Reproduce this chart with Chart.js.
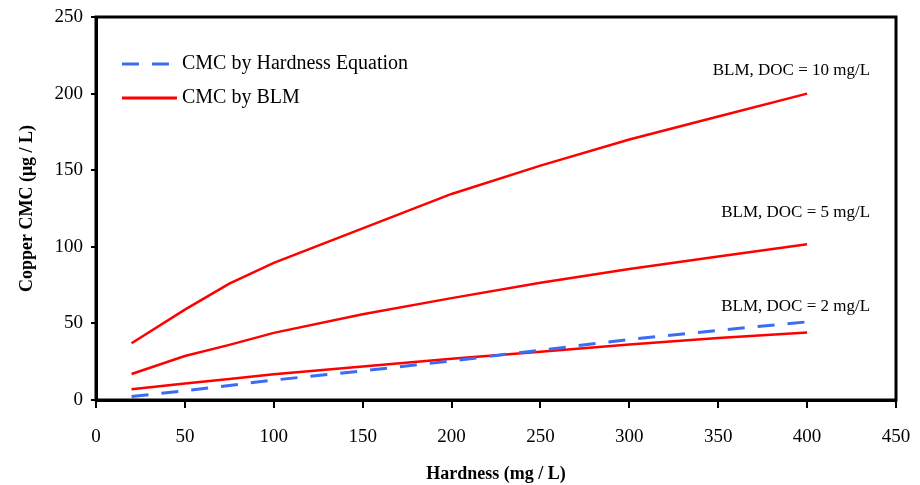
<!DOCTYPE html>
<html>
<head>
<meta charset="utf-8">
<script src="https://cdn.jsdelivr.net/npm/chart.js@4.4.1/dist/chart.umd.min.js"></script>
<style>
  html, body { margin: 0; padding: 0; background: #fff; }
  #wrap { width: 920px; height: 485px; }
</style>
</head>
<body>
<div id="wrap"><canvas id="cmcChart" width="920" height="485"></canvas></div>
<script>
// values
var hardness   = [20, 50, 75, 100, 150, 200, 250, 300, 350, 400];
var hardnessEq = [2.3, 6, 9.5, 13, 19, 25.5, 32.5, 39.5, 45.5, 51];
var blmDoc2    = [7, 10.8, 13.7, 16.8, 21.8, 27, 31.5, 36.3, 40.5, 44];
var blmDoc5    = [17, 28.7, 36, 43.8, 56, 66.5, 76.5, 85.5, 93.6, 101.6];
var blmDoc10   = [37, 59, 76, 89.5, 112, 134.5, 153, 170, 185, 200];
var xTicks = [0, 50, 100, 150, 200, 250, 300, 350, 400, 450];
var yTicks = [0, 50, 100, 150, 200, 250];

var serif = "'Liberation Serif', 'Times New Roman', serif";
var blue = '#3a6cf5';
var red = '#ff0000';

function pts(ys) {
    var out = [];
    for (var i = 0; i < hardness.length; i++) {
        out.push({x: hardness[i], y: ys[i]});
    }
    return out;
}

// curve labels, placed with the chart scales
var curveLabels = [
    {text: 'BLM, DOC = 10 mg/L', x: 400, y: 200, dy: -23},
    {text: 'BLM, DOC = 5 mg/L', x: 400, y: 101.6, dy: -32},
    {text: 'BLM, DOC = 2 mg/L', x: 400, y: 44, dy: -26}
];

var framePlugin = {
    id: 'frame',
    afterDraw: function(chart) {
        var ctx = chart.ctx, a = chart.chartArea;
        var xs = chart.scales.x, ys = chart.scales.y;
        ctx.save();
        // frame
        ctx.strokeStyle = '#000';
        ctx.lineWidth = 3;
        ctx.strokeRect(a.left, a.top, a.right - a.left, a.bottom - a.top);

        // legend (inside the plot)
        var items = [chart.data.datasets[0], chart.data.datasets[1]];
        ctx.font = '20px ' + serif;
        ctx.textBaseline = 'middle';
        ctx.textAlign = 'left';
        for (var i = 0; i < items.length; i++) {
            var ly = 64 + i * 34;
            ctx.beginPath();
            ctx.strokeStyle = items[i].borderColor;
            ctx.lineWidth = 3;
            ctx.setLineDash(items[i].borderDash || []);
            ctx.moveTo(122, ly);
            ctx.lineTo(177, ly);
            ctx.stroke();
            ctx.setLineDash([]);
            ctx.fillStyle = '#000';
            ctx.fillText(items[i].label, 182, ly);
        }

        // curve labels
        ctx.font = '17px ' + serif;
        ctx.textAlign = 'right';
        ctx.fillStyle = '#000';
        curveLabels.forEach(function(c) {
            ctx.fillText(c.text, xs.getPixelForValue(c.x) + 63, ys.getPixelForValue(c.y) + c.dy);
        });
        ctx.restore();
    }
};

var ctx = document.getElementById('cmcChart').getContext('2d');
var myChart = new Chart(ctx, {
    type: 'line',
    data: {
        datasets: [{
            label: 'CMC by Hardness Equation',
            data: pts(hardnessEq),
            borderColor: blue,
            borderWidth: 3,
            borderDash: [17, 13],
            pointRadius: 0,
            fill: false,
            tension: 0
        }, {
            label: 'CMC by BLM',
            data: pts(blmDoc2),
            borderColor: red,
            borderWidth: 2.5,
            pointRadius: 0,
            fill: false,
            tension: 0
        }, {
            label: 'BLM DOC 5',
            data: pts(blmDoc5),
            borderColor: red,
            borderWidth: 2.5,
            pointRadius: 0,
            fill: false,
            tension: 0
        }, {
            label: 'BLM DOC 10',
            data: pts(blmDoc10),
            borderColor: red,
            borderWidth: 2.5,
            pointRadius: 0,
            fill: false,
            tension: 0
        }]
    },
    options: {
        responsive: false,
        animation: false,
        devicePixelRatio: 1,
        layout: { padding: { top: 17, right: 24, left: 0, bottom: 0 } },
        plugins: {
            legend: { display: false },
            tooltip: { enabled: false }
        },
        scales: {
            x: {
                type: 'linear',
                min: 0,
                max: 450,
                afterBuildTicks: function(scale) {
                    scale.ticks = xTicks.map(function(v) { return {value: v}; });
                },
                afterFit: function(scale) {
                    scale.height = 85;
                    scale.paddingLeft = 0;
                    scale.paddingRight = 0;
                },
                grid: {
                    drawOnChartArea: false,
                    drawTicks: true,
                    tickLength: 8,
                    color: '#000',
                    lineWidth: 2
                },
                border: { display: true, color: '#000', width: 3 },
                ticks: {
                    color: '#000',
                    padding: 18,
                    font: { family: serif, size: 19 }
                },
                title: {
                    display: true,
                    text: 'Hardness (mg / L)',
                    color: '#000',
                    padding: { top: 6, bottom: 0 },
                    font: { family: serif, size: 18, weight: 'bold' }
                }
            },
            y: {
                type: 'linear',
                min: 0,
                max: 250,
                afterBuildTicks: function(scale) {
                    scale.ticks = yTicks.map(function(v) { return {value: v}; });
                },
                afterFit: function(scale) {
                    scale.width = 96;
                    scale.paddingTop = 0;
                    scale.paddingBottom = 0;
                },
                grid: {
                    drawOnChartArea: false,
                    drawTicks: true,
                    tickLength: 5,
                    color: '#000',
                    lineWidth: 2
                },
                border: { display: true, color: '#000', width: 3 },
                ticks: {
                    color: '#000',
                    padding: 8,
                    font: { family: serif, size: 19 }
                },
                title: {
                    display: true,
                    text: 'Copper CMC (\u03bcg / L)',
                    color: '#000',
                    padding: { top: 17, bottom: 0 },
                    font: { family: serif, size: 18, weight: 'bold' }
                }
            }
        }
    },
    plugins: [framePlugin]
});
</script>
</body>
</html>
